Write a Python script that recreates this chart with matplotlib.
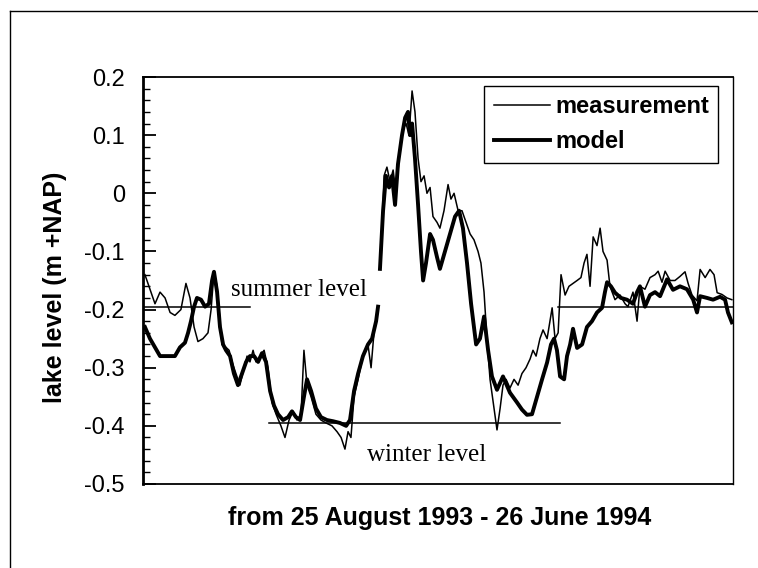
# -*- coding: utf-8 -*-
"""
Lake level: measurement vs model, 25 Aug 1993 - 26 Jun 1994
"""

import numpy as np
import matplotlib
matplotlib.use('Agg')
import matplotlib.pyplot as plt
from matplotlib.lines import Line2D
from matplotlib.ticker import MultipleLocator


#################### Data (day since 25 August 1993, lake level m +NAP)

meas_day = [1.0, 3.6, 6.2, 8.8, 11.4, 14.0, 16.5, 19.6, 22.2, 24.3, 26.4, 28.4, 31.0,
            33.6, 35.2, 36.7, 38.3, 39.8, 40.8, 42.9, 44.5, 46.5, 50.1, 52.2, 53.8,
            55.3, 56.9, 58.4, 60.5, 62.6, 64.6, 66.7, 68.8, 71.3, 73.4, 75.5, 77.6,
            79.6, 81.7, 83.2, 84.8, 86.9, 89.4, 92.0, 94.6, 97.7, 100.3, 102.4, 104.4,
            106.0, 107.5, 109.1, 111.2, 113.7, 116.3, 117.9, 119.4, 121.5, 122.2,
            123.0, 124.6, 126.1, 127.7, 129.3, 130.8, 132.4, 134.4, 136.0, 137.5,
            139.1, 140.6, 142.2, 143.7, 145.3, 146.8, 148.4, 149.9, 152.0, 153.5,
            155.6, 157.7, 159.2, 160.8, 162.9, 164.9, 167.0, 169.1, 171.1, 173.2,
            174.7, 176.3, 177.8, 179.4, 181.5, 183.0, 184.6, 186.1, 187.7, 189.7,
            191.8, 193.9, 195.9, 198.0, 200.1, 201.6, 203.2, 205.2, 206.8, 208.9,
            210.4, 211.5, 213.0, 214.6, 216.1, 218.2, 220.2, 222.3, 224.4, 226.4,
            228.0, 229.5, 231.1, 232.7, 234.7, 236.3, 237.8, 239.9, 241.4, 244.0,
            246.6, 249.2, 250.7, 253.3, 255.4, 256.9, 259.5, 262.1, 264.7, 266.3,
            268.3, 269.9, 272.5, 275.0, 277.6, 280.2, 281.8, 283.8, 286.4, 288.0,
            290.6, 293.1, 295.2, 296.8, 299.3, 301.9, 304.4]
meas_level = [-0.14, -0.165, -0.19, -0.17, -0.18, -0.205, -0.21, -0.20, -0.155, -0.18,
              -0.23, -0.255, -0.25, -0.24, -0.20, -0.135, -0.16, -0.22, -0.26, -0.265,
              -0.27, -0.295, -0.33, -0.30, -0.28, -0.29, -0.27, -0.29, -0.28, -0.27,
              -0.30, -0.36, -0.38, -0.40, -0.42, -0.39, -0.375, -0.39, -0.38, -0.27,
              -0.33, -0.35, -0.38, -0.39, -0.395, -0.40, -0.41, -0.42, -0.44, -0.41,
              -0.42, -0.35, -0.32, -0.28, -0.26, -0.30, -0.24, -0.195, np.nan,
              -0.12, 0.03, 0.045, 0.02, 0.04, 0.00, 0.06, 0.11, 0.12, 0.10,
              0.176, 0.14, 0.06, 0.02, 0.03, 0.00, 0.01, -0.04, -0.05, -0.06,
              -0.03, 0.015, -0.01, 0.00, -0.03, -0.03, -0.05, -0.07, -0.08, -0.10,
              -0.12, -0.17, -0.25, -0.32, -0.37, -0.407, -0.37, -0.33, -0.32, -0.335,
              -0.32, -0.33, -0.31, -0.30, -0.285, -0.27, -0.28, -0.25, -0.235, -0.25,
              -0.22, -0.197, -0.25, -0.24, -0.14, -0.175, -0.16, -0.155, -0.15, -0.145,
              -0.12, -0.105, -0.16, -0.075, -0.09, -0.06, -0.10, -0.115, -0.16, -0.183,
              -0.175, -0.19, -0.195, -0.17, -0.22, -0.16, -0.165, -0.145, -0.14, -0.134,
              -0.153, -0.134, -0.15, -0.15, -0.143, -0.135, -0.155, -0.175, -0.185, -0.131,
              -0.145, -0.131, -0.14, -0.171, -0.174, -0.18, -0.183]

model_day = [1.0, 3.6, 6.2, 8.8, 11.4, 14.0, 16.5, 19.1, 21.7, 23.3, 24.8, 26.4, 27.9,
             30.0, 32.1, 34.1, 35.7, 36.7, 38.3, 39.8, 41.4, 42.9, 45.0, 47.0, 49.1,
             51.2, 53.3, 55.3, 57.4, 59.5, 61.5, 63.6, 65.7, 67.7, 69.8, 72.4, 75.0,
             77.0, 79.1, 81.2, 83.2, 84.8, 86.9, 89.4, 92.0, 95.1, 98.2, 101.8, 105.0,
             107.0, 109.1, 111.2, 113.7, 116.3, 118.4, 120.5, 121.5, 122.0,
             122.5, 124.1, 125.6, 127.2, 128.7, 130.3, 131.8, 133.9, 135.5, 137.0,
             138.0, 139.1, 140.6, 142.2, 143.7, 144.8, 146.3, 148.4, 149.9, 152.0,
             153.5, 156.1, 158.7, 161.3, 163.4, 165.4, 167.5, 169.6, 172.2, 174.2,
             176.3, 178.4, 180.4, 183.0, 186.1, 189.7, 193.4, 195.9, 198.5, 201.1,
             203.7, 206.3, 208.9, 210.9, 212.5, 214.0, 215.6, 217.7, 219.2, 220.8,
             222.3, 224.4, 227.0, 229.5, 232.1, 234.7, 237.3, 238.8, 239.9, 241.9,
             244.0, 247.1, 250.2, 253.3, 255.4, 256.9, 259.5, 262.1, 264.7, 267.3,
             270.9, 274.0, 277.6, 281.2, 284.4, 286.4, 288.0, 291.6, 294.7, 298.3,
             300.9, 302.4, 304.4]
model_level = [-0.23, -0.25, -0.265, -0.28, -0.28, -0.28, -0.28, -0.265, -0.257, -0.24,
               -0.22, -0.195, -0.18, -0.183, -0.195, -0.19, -0.15, -0.135, -0.17, -0.23,
               -0.26, -0.27, -0.28, -0.31, -0.33, -0.31, -0.29, -0.28, -0.28, -0.29,
               -0.275, -0.29, -0.34, -0.365, -0.38, -0.39, -0.385, -0.375, -0.385, -0.39,
               -0.35, -0.32, -0.34, -0.37, -0.385, -0.39, -0.392, -0.395, -0.40, -0.39,
               -0.34, -0.31, -0.28, -0.26, -0.25, -0.22, -0.195, np.nan,
               -0.13, -0.03, 0.03, 0.01, 0.03, -0.02, 0.05, 0.10, 0.13, 0.14,
               0.10, 0.12, 0.06, -0.02, -0.10, -0.15, -0.12, -0.07, -0.08, -0.11,
               -0.13, -0.10, -0.07, -0.04, -0.03, -0.06, -0.12, -0.19, -0.26, -0.25,
               -0.212, -0.27, -0.315, -0.338, -0.315, -0.343, -0.36, -0.372, -0.381, -0.38,
               -0.35, -0.32, -0.291, -0.26, -0.25, -0.27, -0.315, -0.32, -0.28, -0.26,
               -0.233, -0.266, -0.26, -0.23, -0.22, -0.205, -0.197, -0.17, -0.153, -0.16,
               -0.171, -0.18, -0.183, -0.19, -0.17, -0.16, -0.195, -0.175, -0.17, -0.177,
               -0.148, -0.166, -0.16, -0.165, -0.183, -0.205, -0.177, -0.18, -0.183, -0.178,
               -0.183, -0.205, -0.222]

# reference levels: (start day, end day, level)
summer_level_1 = (0.0, 55.3, -0.195)
winter_level = (65.1, 215.6, -0.395)
summer_level_2 = (214.6, 305.0, -0.195)

n_days = 305


#################### Plot parameters

plt.rcParams.update({'font.family': 'Liberation Sans',
                     'axes.linewidth': 1.3})

fig = plt.figure(figsize=(7.58, 5.68), dpi=100)
ax = fig.add_axes((143/758, 1 - 484/568, 590/758, 407/568))


#################### Lines

ax.plot(meas_day, meas_level, color='black', linewidth=1.1, label='measurement')
ax.plot(model_day, model_level, color='black', linewidth=2.8, label='model',
        solid_joinstyle='round')

for x0, x1, lev in (summer_level_1, winter_level, summer_level_2):
    ax.plot([x0, x1], [lev, lev], color='black', linewidth=1.1)

ax.text(45.5, -0.166, 'summer level', family='Liberation Serif', fontsize=18,
        ha='left', va='center')
ax.text(115.8, -0.45, 'winter level', family='Liberation Serif', fontsize=18,
        ha='left', va='center')


#################### Axes

ax.set_xlim(0, n_days)
ax.set_ylim(-0.5, 0.2)
ax.set_xticks([])
ax.yaxis.set_major_locator(MultipleLocator(0.1))
ax.yaxis.set_minor_locator(MultipleLocator(0.02))
ax.set_yticks([0.2, 0.1, 0, -0.1, -0.2, -0.3, -0.4, -0.5])
ax.set_yticklabels(['0.2', '0.1', '0', '-0.1', '-0.2', '-0.3', '-0.4', '-0.5'])
ax.tick_params(axis='y', which='major', direction='in', length=9, width=1.3,
               labelsize=17, pad=13)
ax.tick_params(axis='y', which='minor', direction='in', length=5, width=1.0)
ax.spines['left'].set_linewidth(2.0)
ax.spines['right'].set_linewidth(1.0)

leg = ax.legend(loc='upper right', bbox_to_anchor=(0.975, 0.978), borderaxespad=0,
                fontsize=17, prop={'weight': 'bold', 'size': 17},
                handlelength=2.4, handletextpad=0.2, labelspacing=0.5,
                borderpad=0.4, fancybox=False, framealpha=1, edgecolor='black')
leg.get_frame().set_linewidth(1.0)

fig.text(440/758, 1 - 518/568, 'from 25 August 1993 - 26 June 1994',
         fontsize=18, fontweight='bold', ha='center', va='center')
fig.text(55/758, 1 - 287/568, 'lake level (m +NAP)', fontsize=18,
         fontweight='bold', rotation=90, ha='center', va='center')

# page border of the scanned figure
fig.add_artist(Line2D([10/758, 10/758], [0, 1 - 11/568], color='black', linewidth=1.0))
fig.add_artist(Line2D([10/758, 1], [1 - 11/568, 1 - 11/568], color='black', linewidth=1.0))

fig.savefig('out.png', dpi=100)
